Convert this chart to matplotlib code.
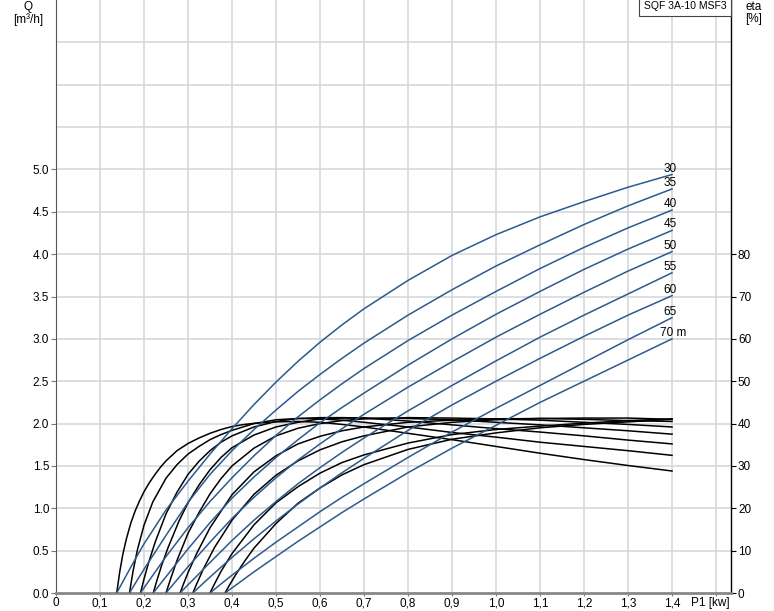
import numpy as np
import matplotlib.pyplot as plt

plt.rcParams['font.family'] = ['Liberation Sans', 'DejaVu Sans']

# Förderhöhen (Kurvenbeschriftung)
heads = ["30", "35", "40", "45", "50", "55", "60", "65", "70 m"]

# Q [m³/h] über P1 [kW]
p_30 = [0.138, 0.145, 0.155, 0.17, 0.185, 0.2, 0.25, 0.3, 0.35, 0.4, 0.45, 0.5, 0.55, 0.6, 0.65, 0.7, 0.8, 0.9, 1.0, 1.1, 1.2, 1.3, 1.4]
q_30 = [0, 0.067, 0.163, 0.305, 0.445, 0.58, 0.98, 1.32, 1.64, 1.94, 2.225, 2.49, 2.735, 2.96, 3.165, 3.355, 3.69, 3.985, 4.23, 4.44, 4.62, 4.79, 4.94]
p_35 = [0.167, 0.175, 0.185, 0.2, 0.22, 0.25, 0.3, 0.35, 0.4, 0.45, 0.5, 0.55, 0.6, 0.65, 0.7, 0.8, 0.9, 1.0, 1.1, 1.2, 1.3, 1.4]
q_35 = [0, 0.07, 0.155, 0.28, 0.44, 0.68, 1.07, 1.4, 1.68, 1.93, 2.16, 2.38, 2.58, 2.77, 2.95, 3.28, 3.58, 3.86, 4.11, 4.35, 4.57, 4.77]
p_40 = [0.192, 0.2, 0.21, 0.225, 0.25, 0.275, 0.3, 0.35, 0.4, 0.45, 0.5, 0.55, 0.6, 0.65, 0.7, 0.8, 0.9, 1.0, 1.1, 1.2, 1.3, 1.4]
q_40 = [0, 0.06, 0.135, 0.245, 0.43, 0.6, 0.77, 1.08, 1.36, 1.62, 1.86, 2.08, 2.28, 2.47, 2.65, 2.98, 3.28, 3.56, 3.83, 4.08, 4.31, 4.52]
p_45 = [0.221, 0.23, 0.24, 0.255, 0.28, 0.3, 0.35, 0.4, 0.45, 0.5, 0.55, 0.6, 0.65, 0.7, 0.8, 0.9, 1.0, 1.1, 1.2, 1.3, 1.4]
q_45 = [0, 0.06, 0.127, 0.225, 0.39, 0.52, 0.83, 1.12, 1.37, 1.6, 1.81, 2.01, 2.19, 2.36, 2.69, 3.0, 3.29, 3.56, 3.82, 4.06, 4.28]
p_50 = [0.25, 0.26, 0.275, 0.3, 0.35, 0.4, 0.45, 0.5, 0.55, 0.6, 0.65, 0.7, 0.8, 0.9, 1.0, 1.1, 1.2, 1.3, 1.4]
q_50 = [0, 0.062, 0.155, 0.31, 0.6, 0.88, 1.13, 1.36, 1.57, 1.76, 1.94, 2.11, 2.43, 2.73, 3.02, 3.29, 3.55, 3.8, 4.03]
p_55 = [0.282, 0.29, 0.3, 0.32, 0.35, 0.4, 0.45, 0.5, 0.55, 0.6, 0.65, 0.7, 0.8, 0.9, 1.0, 1.1, 1.2, 1.3, 1.4]
q_55 = [0, 0.043, 0.097, 0.2, 0.36, 0.62, 0.86, 1.08, 1.29, 1.48, 1.66, 1.83, 2.15, 2.45, 2.74, 3.02, 3.28, 3.53, 3.78]
p_60 = [0.311, 0.32, 0.335, 0.36, 0.4, 0.45, 0.5, 0.55, 0.6, 0.65, 0.7, 0.8, 0.9, 1.0, 1.1, 1.2, 1.3, 1.4]
q_60 = [0, 0.044, 0.117, 0.235, 0.42, 0.64, 0.85, 1.05, 1.24, 1.42, 1.59, 1.92, 2.22, 2.5, 2.77, 3.03, 3.28, 3.51]
p_65 = [0.35, 0.36, 0.375, 0.4, 0.45, 0.5, 0.55, 0.6, 0.65, 0.7, 0.8, 0.9, 1.0, 1.1, 1.2, 1.3, 1.4]
q_65 = [0, 0.043, 0.107, 0.21, 0.41, 0.6, 0.78, 0.96, 1.13, 1.29, 1.6, 1.9, 2.18, 2.45, 2.72, 2.99, 3.25]
p_70 = [0.384, 0.395, 0.41, 0.43, 0.45, 0.5, 0.55, 0.6, 0.65, 0.7, 0.8, 0.9, 1.0, 1.1, 1.2, 1.3, 1.4]
q_70 = [0, 0.042, 0.098, 0.174, 0.25, 0.43, 0.61, 0.78, 0.95, 1.11, 1.42, 1.71, 1.98, 2.25, 2.5, 2.75, 3.0]

# eta [%] über P1 [kW]
pe_30 = [0.138, 0.145, 0.152, 0.16, 0.17, 0.18, 0.19, 0.2, 0.2125, 0.225, 0.2375, 0.25, 0.275, 0.3, 0.325, 0.35, 0.375, 0.4, 0.425, 0.45, 0.5, 0.55, 0.6, 0.65, 0.7, 0.8, 0.9, 1.0, 1.1, 1.2, 1.3, 1.4]
eta_30 = [0, 5.1, 9.2, 12.8, 16.5, 19.4, 21.8, 23.9, 26.1, 28.0, 29.7, 31.2, 33.6, 35.3, 36.6, 37.7, 38.6, 39.3, 39.75, 40.05, 40.4, 40.5, 40.3, 39.8, 39.2, 37.7, 36.2, 34.6, 33.0, 31.5, 30.1, 28.8]
pe_35 = [0.167, 0.175, 0.185, 0.2, 0.22, 0.25, 0.275, 0.3, 0.325, 0.35, 0.375, 0.4, 0.45, 0.5, 0.55, 0.6, 0.65, 0.7, 0.8, 0.9, 1.0, 1.1, 1.2, 1.3, 1.4]
eta_35 = [0, 5.1, 10.2, 16.0, 21.5, 27.1, 30.3, 32.8, 34.6, 36.2, 37.4, 38.4, 40.0, 40.9, 41.2, 41.1, 40.8, 40.3, 39.2, 37.9, 36.8, 35.6, 34.6, 33.6, 32.5]
pe_40 = [0.192, 0.2, 0.21, 0.225, 0.25, 0.275, 0.3, 0.325, 0.35, 0.375, 0.4, 0.45, 0.5, 0.55, 0.6, 0.65, 0.7, 0.8, 0.9, 1.0, 1.1, 1.2, 1.3, 1.4]
eta_40 = [0, 3.3, 7.0, 11.9, 18.7, 23.8, 28.0, 31.1, 33.6, 35.6, 37.1, 39.2, 40.5, 41.2, 41.4, 41.4, 41.3, 40.6, 39.7, 38.8, 38.0, 37.1, 36.1, 35.2]
pe_45 = [0.221, 0.23, 0.24, 0.255, 0.28, 0.3, 0.325, 0.35, 0.375, 0.4, 0.45, 0.5, 0.55, 0.6, 0.65, 0.7, 0.8, 0.9, 1.0, 1.1, 1.2, 1.3, 1.4]
eta_45 = [0, 3.2, 6.5, 10.8, 17.1, 21.3, 25.5, 29.1, 32.0, 34.3, 37.3, 39.2, 40.3, 41.1, 41.3, 41.3, 41.2, 40.9, 40.3, 39.7, 39.0, 38.3, 37.5]
pe_50 = [0.25, 0.26, 0.275, 0.3, 0.325, 0.35, 0.375, 0.4, 0.45, 0.5, 0.55, 0.6, 0.65, 0.7, 0.8, 0.9, 1.0, 1.1, 1.2, 1.3, 1.4]
eta_50 = [0, 3.2, 7.7, 14.1, 19.0, 23.4, 27.0, 30.0, 34.2, 37.1, 38.9, 40.0, 40.7, 41.1, 41.4, 41.3, 41.1, 40.8, 40.3, 39.8, 39.2]
pe_55 = [0.282, 0.29, 0.3, 0.32, 0.35, 0.4, 0.45, 0.5, 0.55, 0.6, 0.65, 0.7, 0.8, 0.9, 1.0, 1.1, 1.2, 1.3, 1.4]
eta_55 = [0, 2.2, 4.8, 9.4, 15.4, 23.2, 28.6, 32.4, 35.2, 37.0, 38.3, 39.2, 40.3, 40.8, 41.1, 41.2, 41.0, 40.7, 40.5]
pe_60 = [0.311, 0.32, 0.335, 0.36, 0.4, 0.45, 0.5, 0.55, 0.6, 0.65, 0.7, 0.8, 0.9, 1.0, 1.1, 1.2, 1.3, 1.4]
eta_60 = [0, 2.2, 5.7, 10.7, 17.2, 23.3, 27.8, 31.2, 33.8, 35.7, 37.1, 39.2, 40.3, 40.9, 41.2, 41.3, 41.3, 41.0]
pe_65 = [0.35, 0.36, 0.375, 0.4, 0.45, 0.5, 0.55, 0.6, 0.65, 0.7, 0.8, 0.9, 1.0, 1.1, 1.2, 1.3, 1.4]
eta_65 = [0, 2.1, 5.1, 9.3, 16.1, 21.3, 25.1, 28.3, 30.8, 32.6, 35.4, 37.4, 38.6, 39.4, 40.1, 40.7, 41.1]
pe_70 = [0.384, 0.395, 0.41, 0.43, 0.45, 0.5, 0.55, 0.6, 0.65, 0.7, 0.8, 0.9, 1.0, 1.1, 1.2, 1.3, 1.4]
eta_70 = [0, 2.0, 4.6, 7.7, 10.6, 16.4, 21.2, 24.8, 27.9, 30.3, 33.9, 36.3, 37.8, 39.0, 39.8, 40.4, 41.0]

q_curves = [(p_30, q_30), (p_35, q_35), (p_40, q_40), (p_45, q_45), (p_50, q_50),
            (p_55, q_55), (p_60, q_60), (p_65, q_65), (p_70, q_70)]
eta_curves = [(pe_30, eta_30), (pe_35, eta_35), (pe_40, eta_40), (pe_45, eta_45), (pe_50, eta_50),
              (pe_55, eta_55), (pe_60, eta_60), (pe_65, eta_65), (pe_70, eta_70)]

x_ticks = [0, 0.1, 0.2, 0.3, 0.4, 0.5, 0.6, 0.7, 0.8, 0.9, 1.0, 1.1, 1.2, 1.3, 1.4, 1.5]
x_labels = ["0", "0,1", "0,2", "0,3", "0,4", "0,5", "0,6", "0,7", "0,8", "0,9",
            "1,0", "1,1", "1,2", "1,3", "1,4", ""]
q_ticks = [0.0, 0.5, 1.0, 1.5, 2.0, 2.5, 3.0, 3.5, 4.0, 4.5, 5.0]
eta_ticks = [0, 10, 20, 30, 40, 50, 60, 70, 80]

blue = "#2c5a8c"
grid_col = "#d3d5d8"
fs = 8.5

fig = plt.figure(figsize=(7.74, 6.11), dpi=100)
ax = fig.add_axes([56 / 774, 18 / 611, 675 / 774, 593 / 611])
ax2 = ax.twinx()
ax.set_zorder(ax2.get_zorder() + 1)
ax.patch.set_visible(False)

ax.set_xlim(0, 1.534)
ax.set_ylim(0, 7.0)
ax2.set_ylim(0, 140)

# Gitter auf der zweiten Achse, damit es unter allen Kurven liegt
for gx in np.arange(0.1, 1.55, 0.1):
    ax2.axvline(gx, color=grid_col, lw=1.1, zorder=0)
for gy in np.arange(10, 140, 10):
    ax2.axhline(gy, color=grid_col, lw=1.1, zorder=0)

for pe, eta in eta_curves:
    ax2.plot(pe, eta, color="black", lw=1.1, zorder=2)

for (p, q), name in zip(q_curves, heads):
    ax.plot(p, q, color=blue, lw=1.1, zorder=3)
    if name.endswith("m"):
        ax.text(p[-1] - 0.027, q[-1], name, fontsize=fs, ha="left", va="bottom")
    else:
        ax.text(p[-1] - 0.005, q[-1], name, fontsize=fs, ha="center", va="bottom")

ax.set_xticks(x_ticks)
ax.set_xticklabels(x_labels, fontsize=fs)
ax.set_yticks(q_ticks)
ax.set_yticklabels([f"{v:.1f}" for v in q_ticks], fontsize=fs)
ax.tick_params(axis="x", length=2.5, width=0.8, color="#777777", pad=0.5)
ax.tick_params(axis="y", length=3.5, width=0.8, color="#777777", pad=1.5)
ax.annotate("P1 [kw]", xy=(1.486, 0), xycoords=("data", "axes fraction"),
            xytext=(0, -3), textcoords="offset points",
            fontsize=fs, ha="center", va="top")

ax2.set_yticks(eta_ticks)
ax2.set_yticklabels([str(v) for v in eta_ticks], fontsize=fs)
ax2.tick_params(axis="y", length=3.5, width=0.8, color="black", pad=1.5)

for s in ["top", "right"]:
    ax.spines[s].set_visible(False)
for s in ["top", "left", "bottom"]:
    ax2.spines[s].set_visible(False)
ax.spines["left"].set_color("#555555")
ax.spines["bottom"].set_color("#888888")
ax.spines["bottom"].set_linewidth(2.0)
ax2.spines["right"].set_color("black")
ax2.spines["right"].set_linewidth(1.0)

fig.text(28 / 774, 1 - 1 / 611, "Q\n[m³/h]", fontsize=fs, ha="center", va="top", linespacing=1.05)
fig.text(754 / 774, 1 - 1 / 611, "eta\n[%]", fontsize=fs, ha="center", va="top", linespacing=1.05)
ax.text(0.993, 0.998, "SQF 3A-10 MSF3", transform=ax.transAxes, fontsize=7.5,
        ha="right", va="top",
        bbox=dict(boxstyle="square,pad=0.45", fc="white", ec="#444444", lw=0.8))

fig.savefig("out.png", dpi=100)
